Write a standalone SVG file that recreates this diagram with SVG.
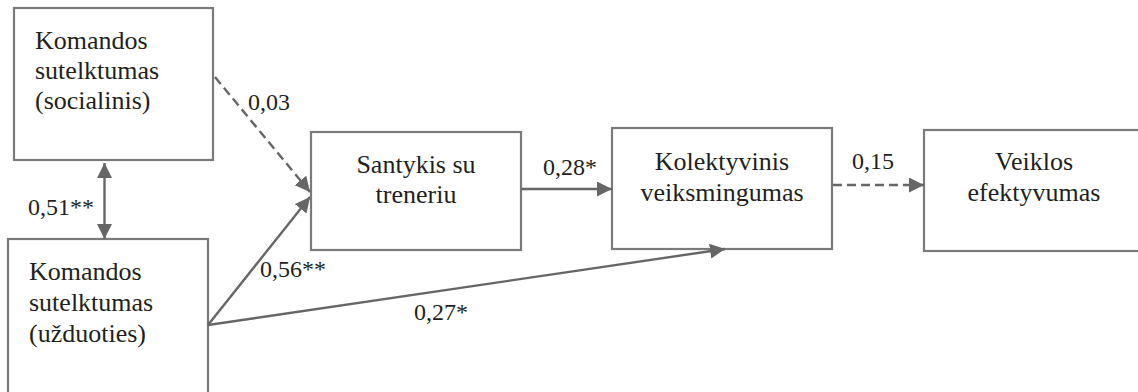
<svg xmlns="http://www.w3.org/2000/svg" width="1138" height="392" viewBox="0 0 1138 392">
<style>
.box{fill:#fff;stroke:#7a7a7a;stroke-width:2.2}
.t{font-family:"Liberation Serif","Times New Roman",serif;font-size:26px;fill:#231f20}
.c{text-anchor:middle}
.lbl{font-family:"Liberation Serif","Times New Roman",serif;font-size:24px;fill:#231f20}
.ln{fill:none;stroke:#666;stroke-width:2.4}
.dash{stroke-dasharray:9 5}
</style>
<defs>
<marker id="ah" markerUnits="userSpaceOnUse" markerWidth="16" markerHeight="16" refX="15" refY="7.5" orient="auto-start-reverse">
<path d="M0,0 L15,7.5 L0,15 z" fill="#666"/>
</marker>
</defs>
<rect width="1138" height="392" fill="#fff"/>
<g id="n-social">
<rect class="box" x="14" y="8" width="199" height="152"/>
<text class="t" x="35" y="49">Komandos</text>
<text class="t" x="35" y="79">sutelktumas</text>
<text class="t" x="35" y="109">(socialinis)</text>
</g>
<g id="n-task">
<rect class="box" x="8" y="239" width="200" height="170"/>
<text class="t" x="29" y="280">Komandos</text>
<text class="t" x="29" y="311">sutelktumas</text>
<text class="t" x="29" y="342">(užduoties)</text>
</g>
<g id="n-coach">
<rect class="box" x="311" y="132" width="210" height="118"/>
<text class="t c" x="416" y="173">Santykis su</text>
<text class="t c" x="416" y="203">treneriu</text>
</g>
<g id="n-collective">
<rect class="box" x="612" y="128" width="220" height="121"/>
<text class="t c" x="722" y="170">Kolektyvinis</text>
<text class="t c" x="722" y="201">veiksmingumas</text>
</g>
<g id="n-perf">
<rect class="box" x="924" y="130" width="220" height="121"/>
<text class="t c" x="1034" y="170">Veiklos</text>
<text class="t c" x="1034" y="201">efektyvumas</text>
</g>
<g id="connectors">
<line class="ln" x1="104.5" y1="163" x2="104.5" y2="239" marker-start="url(#ah)" marker-end="url(#ah)"/>
<line class="ln dash" x1="215" y1="77" x2="310" y2="192" marker-end="url(#ah)"/>
<line class="ln" x1="208" y1="325" x2="310" y2="197" marker-end="url(#ah)"/>
<line class="ln" x1="208" y1="325" x2="725" y2="249" marker-end="url(#ah)"/>
<line class="ln" x1="521" y1="189" x2="612" y2="189" marker-end="url(#ah)"/>
<line class="ln dash" x1="833" y1="185" x2="924" y2="185" marker-end="url(#ah)"/>
</g>
<g id="labels">
<text class="lbl" x="28" y="215">0,51**</text>
<text class="lbl" x="248" y="110">0,03</text>
<text class="lbl" x="260" y="277">0,56**</text>
<text class="lbl" x="414" y="320">0,27*</text>
<text class="lbl" x="543" y="175">0,28*</text>
<text class="lbl" x="852" y="169">0,15</text>
</g>
</svg>
